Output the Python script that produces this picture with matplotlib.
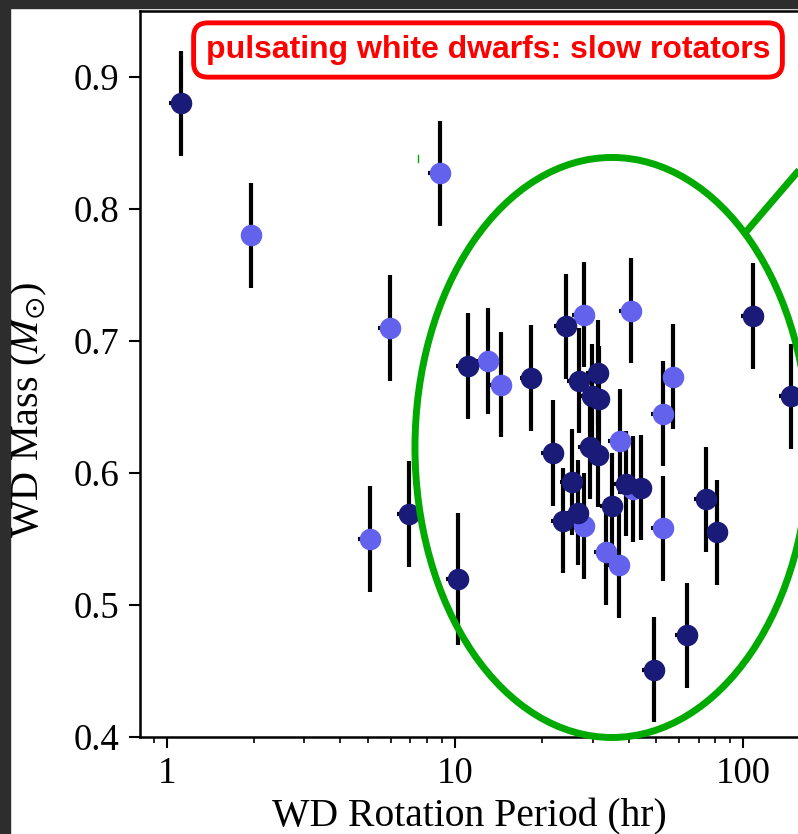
import matplotlib
matplotlib.use("Agg")
import matplotlib.pyplot as plt
from matplotlib.patches import Ellipse, Rectangle
import numpy as np

# dark (navy) points: rotation period (hr), mass (Msun), mass error
dark_period = [1.12, 6.9, 10.2, 11.1, 18.4, 21.9, 24.3, 26.9, 31.4, 29.9, 31.7,
               108, 146, 29.4, 31.4, 25.5, 39.2, 44.3, 35.1, 74.4, 81.3, 23.7,
               26.7, 49.1, 63.9]
dark_mass = [0.880, 0.569, 0.520, 0.681, 0.672, 0.615, 0.711, 0.670, 0.676, 0.658,
             0.656, 0.719, 0.658, 0.620, 0.614, 0.593, 0.592, 0.589, 0.575, 0.580,
             0.555, 0.564, 0.570, 0.451, 0.477]
dark_mass_err = [0.04, 0.04, 0.05, 0.04, 0.04, 0.04, 0.04, 0.04, 0.04, 0.04, 0.04,
                 0.04, 0.04, 0.04, 0.04, 0.04, 0.04, 0.04, 0.04, 0.04, 0.04, 0.04,
                 0.04, 0.04, 0.04]

# light (periwinkle) points
light_period = [1.96, 8.87, 5.95, 5.07, 13.0, 14.4, 28.0, 40.8, 57.1, 52.7, 37.4,
                52.7, 28.0, 33.4, 37.1, 41.5]
light_mass = [0.780, 0.827, 0.710, 0.550, 0.685, 0.667, 0.720, 0.723, 0.673, 0.645,
              0.624, 0.558, 0.560, 0.540, 0.530, 0.588]
light_mass_err = [0.04] * 16
light_period_frac = [0.0] + [0.09] * 15
dark_period_frac = [0.09] * 25

yticks = [0.4, 0.5, 0.6, 0.7, 0.8, 0.9]
xticks = [1, 10, 100]

DARK = "#1a1a78"
LIGHT = "#6262ec"
GREEN = "#00aa00"

plt.rcParams["font.family"] = "Liberation Serif"
plt.rcParams["mathtext.fontset"] = "stix"

W, H = 798, 834
fig = plt.figure(figsize=(W / 100, H / 100), dpi=100)
fig.patch.set_facecolor("white")

# dark screenshot frame along top and left
fig.patches.append(Rectangle((0, 1 - 8 / H), 1, 8 / H, transform=fig.transFigure,
                             color="#2d2d2d", zorder=0))
fig.patches.append(Rectangle((0, 0), 10 / W, 1, transform=fig.transFigure,
                             color="#2d2d2d", zorder=0))

ax = fig.add_axes([140 / W, (H - 737) / H, 658 / W, 726 / H])
ax.set_xscale("log")
ax.set_xlim(0.806, 155)
ax.set_ylim(0.4, 0.95)


def draw(period, mass, merr, frac, color):
    period = np.array(period)
    xerr = np.vstack([period * np.array(frac), period * np.array(frac)])
    ax.errorbar(period, mass, yerr=merr, xerr=xerr, fmt="o", color=color,
                ms=14.5, ecolor="black", elinewidth=3, capsize=0, zorder=3)


draw(light_period, light_mass, light_mass_err, light_period_frac, LIGHT)
draw(dark_period, dark_mass, dark_mass_err, dark_period_frac, DARK)

# green ellipse and pointer line (axes fraction coords)
ax.add_patch(Ellipse((0.7173, 0.3988), 0.5988, 0.7989, transform=ax.transAxes,
                     fill=False, edgecolor=GREEN, lw=5, zorder=4, clip_on=False))
ax.plot([0.9195, 1.05], [0.6942, 0.8320], transform=ax.transAxes, color=GREEN,
        lw=5, clip_on=False, zorder=4, solid_capstyle="butt")
ax.plot([0.4225, 0.4225], [0.792, 0.802], transform=ax.transAxes, color=GREEN,
        lw=1, clip_on=False, zorder=4)

ax.set_xticks(xticks)
ax.set_xticklabels([str(t) for t in xticks])
ax.set_yticks(yticks)
ax.set_yticklabels([f"{t:.1f}" for t in yticks])
ax.tick_params(axis="both", which="major", direction="out", length=8, width=1.5,
               labelsize=26.5, pad=5)
ax.tick_params(axis="x", which="minor", direction="out", length=4, width=1.2)
ax.tick_params(axis="y", which="minor", left=False)
ax.tick_params(axis="y", which="major", pad=7)
ax.tick_params(axis="x", which="major", pad=6)
for side in ["left", "bottom", "top"]:
    ax.spines[side].set_linewidth(1.8)
ax.spines["right"].set_visible(False)

ax.set_xlabel("WD Rotation Period (hr)", fontsize=28.5)
ax.xaxis.set_label_coords(0.5, -0.084)
ax.set_ylabel(r"WD Mass ($M_{\odot}$)", fontsize=29)
ax.yaxis.set_label_coords(-0.138, 0.45)

fig.text(488 / W, 1 - 50 / H, "pulsating white dwarfs: slow rotators",
         fontsize=23, fontweight="bold", color="red", family="Liberation Sans",
         ha="center", va="center",
         bbox=dict(boxstyle="round,pad=0.38,rounding_size=0.45", fc="white",
                   ec="red", lw=3.5))

fig.savefig("out.png", dpi=100)
